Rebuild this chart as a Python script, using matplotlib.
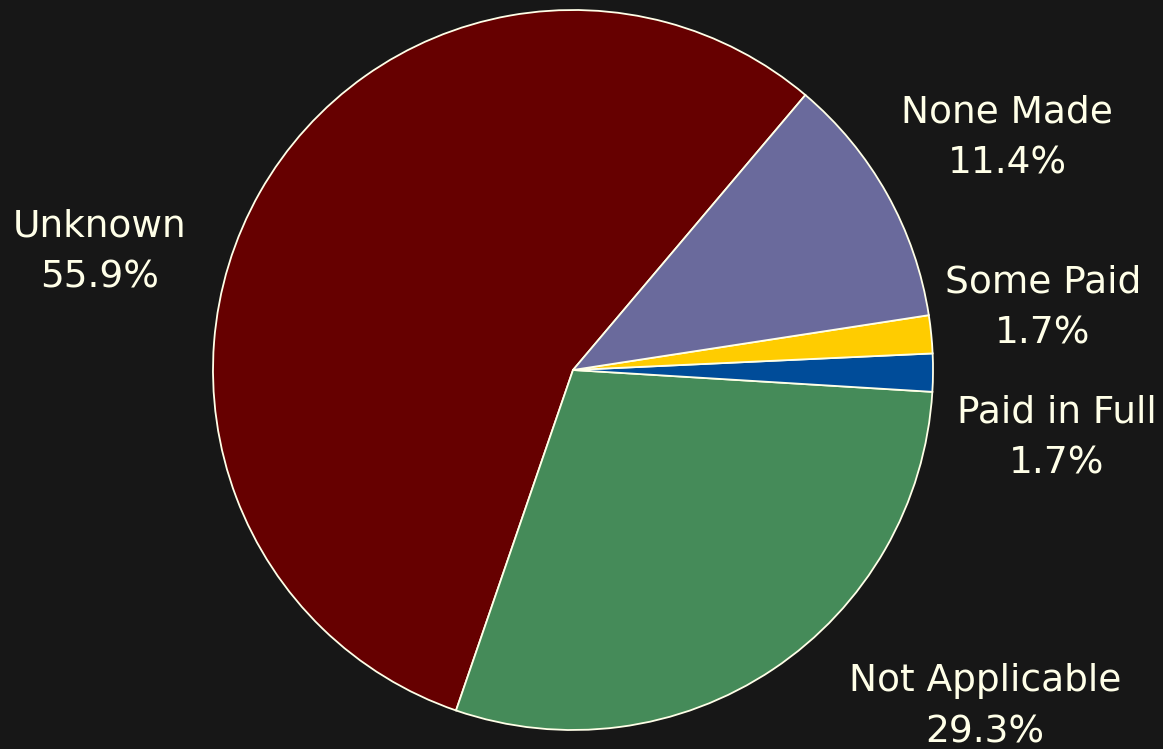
import numpy as np
import matplotlib
matplotlib.use("Agg")
import matplotlib.pyplot as plt

# payment status breakdown, counter-clockwise from the Unknown wedge
labels = ["Unknown", "Not Applicable", "Paid in Full", "Some Paid", "None Made"]
shares = [55.9, 29.3, 1.7, 1.7, 11.4]
colors = ["#660000", "#458B59", "#004C99", "#FFCC00", "#6A6A9C"]

# label anchors in pixels (x from left, y from top)
label_px = [(100, 252), (985, 707), (1057, 438), (1043, 308), (1007, 138)]

bg = "#171717"
txt = "#FFFFE8"

fig = plt.figure(figsize=(11.63, 7.49), dpi=100, facecolor=bg)
ax = fig.add_axes([0, 0, 1, 1])
ax.set_facecolor(bg)

R = 360.0
cx, cy = 573.0, 370.0

wedges, _ = ax.pie(shares, colors=colors, startangle=49.8, counterclock=True,
                   radius=1.0, center=(0, 0),
                   wedgeprops=dict(edgecolor=txt, linewidth=1.3))
ax.set_xlim(-cx / R, (1163 - cx) / R)
ax.set_ylim(-(749 - cy) / R, cy / R)
ax.set_aspect("auto")
ax.axis("off")

for lab, val, (px, py) in zip(labels, shares, label_px):
    ax.text((px - cx) / R, (cy - py) / R, f"{lab}\n{val:.1f}%",
            ha="center", va="center", color=txt, fontsize=27,
            linespacing=1.55)

fig.savefig("out.png", dpi=100, facecolor=bg)
